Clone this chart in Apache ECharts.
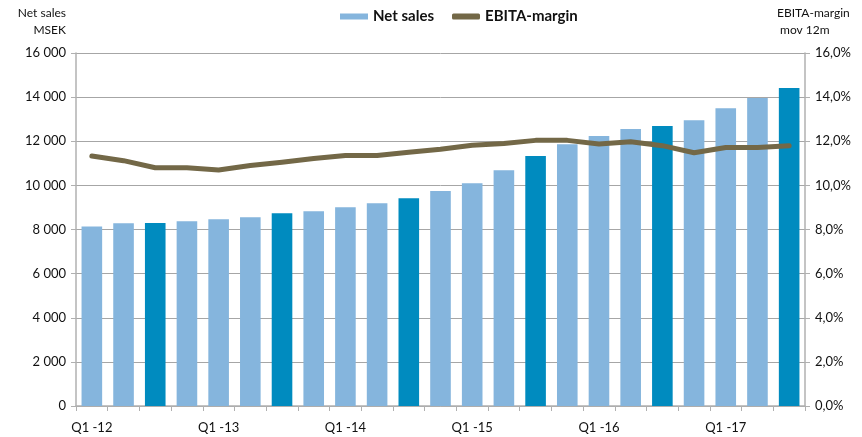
<!DOCTYPE html>
<html>
<head>
<meta charset="utf-8">
<script src="https://cdn.jsdelivr.net/npm/echarts@6/dist/echarts.min.js"></script>
<style>
html,body{margin:0;padding:0;background:#fff;}
#c{width:862px;height:437px;}
</style>
</head>
<body>
<div id="c"></div>
<script>
const categories = [
  "Q1 -12","Q2 -12","Q3 -12","Q4 -12",
  "Q1 -13","Q2 -13","Q3 -13","Q4 -13",
  "Q1 -14","Q2 -14","Q3 -14","Q4 -14",
  "Q1 -15","Q2 -15","Q3 -15","Q4 -15",
  "Q1 -16","Q2 -16","Q3 -16","Q4 -16",
  "Q1 -17","Q2 -17","Q3 -17"
];
const netSales = [
  8140, 8280, 8290, 8370,
  8460, 8550, 8740, 8830,
  9010, 9190, 9420, 9740,
  10100, 10690, 11330, 11860,
  12240, 12560, 12690, 12950,
  13500, 13960, 14410
];
const ebitaMargin = [
  11.33, 11.12, 10.8, 10.8,
  10.7, 10.9, 11.05, 11.22,
  11.35, 11.35, 11.5, 11.64,
  11.82, 11.9, 12.04, 12.04,
  11.88, 11.98, 11.8, 11.48,
  11.72, 11.72, 11.8
];
const leftTicks = [0, 2000, 4000, 6000, 8000, 10000, 12000, 14000, 16000];
const rightTicks = [0, 2, 4, 6, 8, 10, 12, 14, 16];

const LIGHT = '#85b5dd', DARK = '#008bbf', LINE = '#736847';
const FONT = 'Lato, "Open Sans", sans-serif';

const chart = echarts.init(document.getElementById('c'), null, {renderer: 'canvas'});
chart.setOption({
  animation: false,
  textStyle: {fontFamily: FONT},
  legend: {
    top: 4, left: 335,
    itemGap: 18,
    textStyle: {fontWeight: 'bold', fontSize: 15, color: '#111', fontFamily: FONT},
    data: [
      {name: 'Net sales', icon: 'rect', itemStyle: {color: LIGHT}},
      {name: 'EBITA-margin', icon: 'roundRect', itemStyle: {color: LINE}}
    ],
    itemWidth: 28, itemHeight: 6
  },
  grid: {left: 76, right: 57, top: 53, bottom: 31},
  xAxis: {
    type: 'category',
    data: categories,
    boundaryGap: true,
    axisLine: {lineStyle: {color: '#b0b0b0', width: 1.5}},
    axisTick: {show: true, interval: 0, length: 5, lineStyle: {color: '#b0b0b0'}},
    axisLabel: {interval: 3, color: '#111', fontSize: 13, margin: 15, fontFamily: FONT}
  },
  yAxis: [
    {
      type: 'value', min: leftTicks[0], max: leftTicks[leftTicks.length-1], interval: 2000,
      name: 'Net sales\nMSEK', nameLocation: 'end', nameGap: 14,
      nameTextStyle: {color: '#111', fontSize: 12, align: 'right', padding: [0, 10, 0, 0], lineHeight: 17, fontFamily: FONT},
      axisLine: {show: true, lineStyle: {color: '#b0b0b0', width: 1.5}},
      axisTick: {show: true, length: 5, lineStyle: {color: '#b0b0b0'}},
      axisLabel: {color: '#111', fontSize: 13, margin: 10, fontFamily: FONT,
        formatter: v => v >= 1000 ? Math.floor(v/1000) + ' ' + String(v % 1000).padStart(3, '0') : String(v)},
      splitLine: {show: true, lineStyle: {color: '#a6a6a6', width: 1}}
    },
    {
      type: 'value', min: rightTicks[0], max: rightTicks[rightTicks.length-1], interval: 2,
      name: 'EBITA-margin\n mov 12m', nameLocation: 'end', nameGap: 14,
      nameTextStyle: {color: '#111', fontSize: 12, align: 'left', padding: [0, 0, 0, -28], lineHeight: 17, fontFamily: FONT},
      axisLine: {show: true, lineStyle: {color: '#b0b0b0', width: 1.5}},
      axisTick: {show: true, length: 5, lineStyle: {color: '#b0b0b0'}},
      axisLabel: {color: '#111', fontSize: 13, margin: 10, fontFamily: FONT,
        formatter: v => v.toFixed(1).replace('.', ',') + '%'},
      splitLine: {show: false}
    }
  ],
  series: [
    {
      name: 'Net sales', type: 'bar', yAxisIndex: 0,
      barCategoryGap: '35%',
      data: netSales.map((v, i) => ({
        value: v,
        itemStyle: {color: i % 4 === 2 ? DARK : LIGHT}
      })),
      itemStyle: {color: LIGHT}
    },
    {
      name: 'EBITA-margin', type: 'line', yAxisIndex: 1,
      data: ebitaMargin,
      showSymbol: false, symbol: 'none',
      lineStyle: {color: LINE, width: 5, cap: 'round', join: 'round'},
      itemStyle: {color: LINE}
    }
  ]
});
</script>
</body>
</html>
